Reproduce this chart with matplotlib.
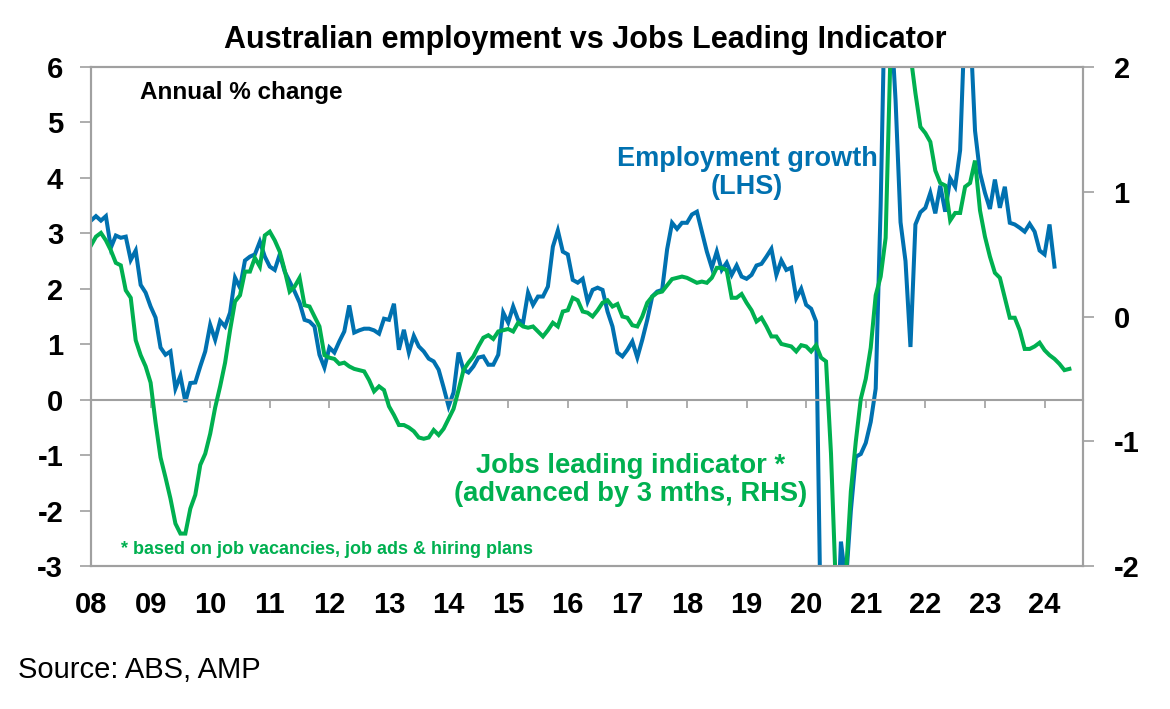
import numpy as np
import matplotlib.pyplot as plt

# Employment growth, annual % change (LHS), monthly from Jan 2008
employment = [
    3.23, 3.31, 3.23, 3.31, 2.74, 2.96, 2.92, 2.94, 2.52, 2.69, 2.07, 1.93,
    1.68, 1.48, 0.94, 0.81, 0.87, 0.20, 0.43, -0.04, 0.30, 0.31, 0.60, 0.87,
    1.35, 1.08, 1.42, 1.32, 1.57, 2.20, 2.02, 2.51, 2.58, 2.62, 2.85, 2.58,
    2.40, 2.34, 2.62, 2.31, 2.13, 1.95, 1.75, 1.44, 1.41, 1.32, 0.81, 0.58,
    0.94, 0.85, 1.05, 1.23, 1.70, 1.21, 1.25, 1.28, 1.28, 1.25, 1.19, 1.46,
    1.44, 1.73, 0.90, 1.26, 0.85, 1.15, 0.96, 0.87, 0.74, 0.69, 0.54, 0.22,
    -0.12, 0.13, 0.85, 0.54, 0.49, 0.60, 0.76, 0.78, 0.63, 0.63, 0.81, 1.57,
    1.39, 1.68, 1.44, 1.39, 1.93, 1.71, 1.86, 1.86, 2.04, 2.76, 3.05, 2.67,
    2.62, 2.16, 2.11, 2.18, 1.77, 1.98, 2.02, 1.98, 1.59, 1.32, 0.85, 0.78,
    0.90, 1.05, 0.76, 1.08, 1.44, 1.86, 1.95, 1.98, 2.71, 3.19, 3.08, 3.19,
    3.19, 3.34, 3.39, 3.03, 2.67, 2.38, 2.67, 2.34, 2.47, 2.25, 2.42, 2.22,
    2.18, 2.25, 2.42, 2.45, 2.58, 2.72, 2.25, 2.51, 2.34, 2.38, 1.83, 2.00,
    1.71, 1.64, 1.41, -4.5, -6.0, -5.2, -4.76, -2.56, -3.3, -2.0, -1.03, -0.98,
    -0.78, -0.40, 0.20, 3.5, 8.0, 7.0, 5.4, 3.2, 2.5, 0.95, 3.16, 3.38,
    3.46, 3.73, 3.36, 3.86, 3.39, 3.99, 3.84, 4.5, 7.0, 6.8, 4.85, 4.09,
    3.73, 3.44, 3.97, 3.46, 3.84, 3.19, 3.16, 3.10, 3.03, 3.17, 3.03, 2.69,
    2.62, 3.16, 2.40,
]

# Jobs leading indicator, advanced 3 months (RHS), monthly from Jan 2008
jli = [
    0.57, 0.64, 0.67, 0.61, 0.53, 0.43, 0.41, 0.21, 0.15, -0.19, -0.31, -0.40,
    -0.53, -0.85, -1.13, -1.29, -1.46, -1.66, -1.74, -1.74, -1.54, -1.43, -1.19, -1.10,
    -0.94, -0.73, -0.56, -0.37, -0.11, 0.12, 0.17, 0.36, 0.36, 0.47, 0.40, 0.65,
    0.68, 0.61, 0.52, 0.37, 0.20, 0.24, 0.31, 0.09, 0.08, 0.00, -0.08, -0.31,
    -0.33, -0.34, -0.38, -0.37, -0.40, -0.42, -0.43, -0.44, -0.51, -0.60, -0.56, -0.59,
    -0.72, -0.79, -0.87, -0.87, -0.89, -0.92, -0.97, -0.98, -0.97, -0.91, -0.95, -0.90,
    -0.82, -0.74, -0.59, -0.43, -0.37, -0.32, -0.24, -0.17, -0.15, -0.18, -0.12, -0.11,
    -0.10, -0.12, -0.05, -0.08, -0.09, -0.08, -0.12, -0.16, -0.11, -0.05, -0.08, 0.04,
    0.05, 0.15, 0.13, 0.04, 0.03, 0.00, 0.05, 0.11, 0.13, 0.08, 0.10, 0.00,
    -0.01, -0.07, -0.08, 0.00, 0.11, 0.16, 0.19, 0.20, 0.25, 0.30, 0.31, 0.32,
    0.31, 0.29, 0.27, 0.28, 0.27, 0.31, 0.39, 0.39, 0.37, 0.15, 0.15, 0.18,
    0.11, 0.05, -0.04, -0.01, -0.08, -0.16, -0.16, -0.22, -0.23, -0.24, -0.28, -0.23,
    -0.24, -0.28, -0.23, -0.33, -0.36, -1.1, -2.2, -2.7, -2.08, -1.4, -1.0, -0.66,
    -0.5, -0.25, 0.17, 0.32, 0.63, 2.15, 2.9, 3.1, 2.6, 2.1, 1.79, 1.52,
    1.47, 1.40, 1.17, 1.07, 1.05, 0.77, 0.83, 0.83, 1.04, 1.07, 1.25, 0.85,
    0.64, 0.48, 0.35, 0.31, 0.15, -0.01, -0.01, -0.11, -0.26, -0.26, -0.24, -0.21,
    -0.27, -0.31, -0.34, -0.38, -0.43, -0.42,
]

years = list(range(2008, 2025))
year_labels = ['%02d' % (y % 100) for y in years]
left_ticks = list(range(-3, 7))
right_ticks = [-2, -1, 0, 1, 2]

blue = '#0071B0'
green = '#00B050'
grey = '#A0A0A0'
plt.rcParams['font.family'] = 'Liberation Sans'

t_emp = 2008 + np.arange(len(employment)) / 12
t_jli = 2008 + np.arange(len(jli)) / 12

fig = plt.figure(figsize=(11.7, 7.09), dpi=100)
ax = fig.add_axes([91/1170, 1 - 566/709, (1083-91)/1170, (566-67)/709])
ax2 = ax.twinx()

ax.plot(t_emp, employment, color=blue, lw=2.9, solid_joinstyle='miter')
ax2.plot(t_jli, jli, color=green, lw=2.9, solid_joinstyle='miter')

ax.set_xlim(2008, 2024.645)
ax.set_ylim(-3, 6)
ax2.set_ylim(-2, 2)

# x axis sits on the zero line, labels drawn under the frame
ax.spines['bottom'].set_position(('data', 0))
ax.set_xticks(years)
ax.set_xticklabels([])
ax.tick_params(axis='x', direction='out', length=6, color=grey, width=1.2)
ax.axhline(-3, color=grey, lw=1.5, clip_on=False)
for y, lab in zip(years, year_labels):
    ax.text(y, -0.078, lab, transform=ax.get_xaxis_transform(), ha='center', va='center',
            fontsize=21, fontweight='bold')

ax.set_yticks(left_ticks)
ax.set_yticklabels([str(v) for v in left_ticks], fontsize=21, fontweight='bold')
ax.tick_params(axis='y', direction='out', length=8, color=grey, width=1.2, pad=12)
ax2.set_yticks(right_ticks)
ax2.set_yticklabels([str(v) for v in right_ticks], fontsize=21, fontweight='bold')
ax2.tick_params(axis='y', direction='out', length=8, color=grey, width=1.2, pad=14)

for a in (ax, ax2):
    for s in a.spines.values():
        s.set_color(grey)
        s.set_linewidth(1.5)

fig.text(585/1170, 1 - 40/709, 'Australian employment vs Jobs Leading Indicator',
         ha='center', va='center', fontsize=22, fontweight='bold')
fig.text(140/1170, 1 - 93/709, 'Annual % change', ha='left', va='center',
         fontsize=17.5, fontweight='bold')
fig.text(747/1170, 1 - 173/709, 'Employment growth\n(LHS)', ha='center', va='center',
         fontsize=19.5, fontweight='bold', color=blue, linespacing=1.12)
fig.text(631/1170, 1 - 480/709, 'Jobs leading indicator *\n(advanced by 3 mths, RHS)',
         ha='center', va='center', fontsize=19.7, fontweight='bold', color=green,
         linespacing=1.12)
fig.text(121/1170, 1 - 550/709, '* based on job vacancies, job ads & hiring plans',
         ha='left', va='center', fontsize=13, fontweight='bold', color=green)
fig.text(18/1170, 1 - 670/709, 'Source: ABS, AMP', ha='left', va='center', fontsize=21)

fig.savefig('out.png', dpi=100)
